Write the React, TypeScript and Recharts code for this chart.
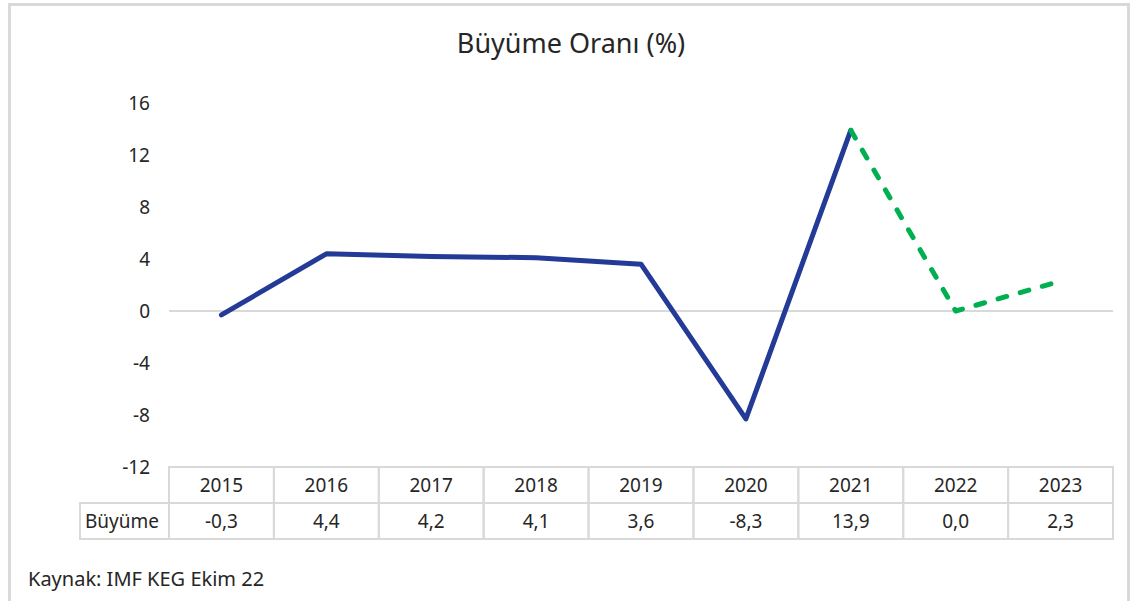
import React from 'react'
import { LineChart, Line, XAxis, YAxis, ReferenceLine } from 'recharts'

const years = ['2015', '2016', '2017', '2018', '2019', '2020', '2021', '2022', '2023']
const growth = [-0.3, 4.4, 4.2, 4.1, 3.6, -8.3, 13.9, 0.0, 2.3]
// last realised year; later ones are forecasts (dashed)
const lastActual = '2021'
const yTicks = [-12, -8, -4, 0, 4, 8, 12, 16]

const FONT = '"Noto Sans", "Open Sans", sans-serif'
const TEXT = '#262626'
const GRID = '#D9D9D9'

const W = 1142
const H = 601
const PLOT_LEFT = 169
const PLOT_RIGHT = 1113
const COL = (PLOT_RIGHT - PLOT_LEFT) / years.length
const ROW = 36

const cutIdx = years.indexOf(lastActual)
const data = years.map((y, i) => ({
  year: y,
  value: growth[i],
  actual: i <= cutIdx ? growth[i] : null,
  forecast: i >= cutIdx ? growth[i] : null,
}))

const fmt = (v: number) => v.toFixed(1).replace('.', ',')

function TableTick({ x, y, payload, index }: any) {
  const left = x - COL / 2
  const v = growth[index]
  return (
    <g>
      <rect x={left} y={y} width={COL} height={ROW * 2} fill="none" stroke={GRID} strokeWidth={2} />
      <line x1={left} x2={left + COL} y1={y + ROW} y2={y + ROW} stroke={GRID} strokeWidth={2} />
      <text x={x} y={y + ROW / 2 + 7} textAnchor="middle" fontSize={19} fontFamily={FONT} fill={TEXT}>
        {payload.value}
      </text>
      <text x={x} y={y + ROW * 1.5 + 7} textAnchor="middle" fontSize={19} fontFamily={FONT} fill={TEXT}>
        {fmt(v)}
      </text>
      {index === 0 && (
        <g>
          <rect x={80} y={y + ROW} width={left - 80} height={ROW} fill="none" stroke={GRID} strokeWidth={2} />
          <text x={85} y={y + ROW * 1.5 + 7} fontSize={19} fontFamily={FONT} fill={TEXT}>Büyüme</text>
        </g>
      )}
    </g>
  )
}

export default function App() {
  return (
    <div style={{ position: 'absolute', left: 0, top: 0, width: W, height: H, background: '#fff', overflow: 'hidden' }}>
      <div style={{
        position: 'absolute', left: 8, top: 3, width: 1122, height: 620,
        border: `3px solid ${GRID}`, boxSizing: 'border-box'
      }} />
      <div style={{
        position: 'absolute', left: 0, top: 24, width: W, textAlign: 'center',
        fontFamily: FONT, fontSize: 27, color: TEXT, lineHeight: 'normal'
      }}>
        Büyüme Oranı (%)
      </div>
      <LineChart width={W} height={H} data={data}
        margin={{ top: 103, right: W - PLOT_RIGHT, bottom: 0, left: PLOT_LEFT - 60 }}>
        <XAxis dataKey="year" axisLine={false} tickLine={false} tickSize={0} tickMargin={0}
          height={H - 467} padding={{ left: COL / 2, right: COL / 2 }} interval={0}
          tick={<TableTick />} />
        <YAxis width={60} domain={[-12, 16]} ticks={yTicks} axisLine={false} tickLine={false}
          tickSize={0} tickMargin={19}
          tick={{ fill: TEXT, fontSize: 19, fontFamily: FONT }} />
        <ReferenceLine y={0} stroke={GRID} strokeWidth={2} />
        <Line dataKey="actual" stroke="#233A96" strokeWidth={5} dot={false}
          strokeLinecap="round" strokeLinejoin="round" connectNulls={false} isAnimationActive={false} />
        <Line dataKey="forecast" stroke="#00B050" strokeWidth={5} dot={false} strokeDasharray="9 14"
          strokeLinecap="round" strokeLinejoin="round" connectNulls={false} isAnimationActive={false} />
      </LineChart>
      <div style={{
        position: 'absolute', left: 28, top: 565, fontFamily: FONT, fontSize: 20, color: TEXT, lineHeight: 'normal'
      }}>
        Kaynak: IMF KEG Ekim 22
      </div>
    </div>
  )
}
